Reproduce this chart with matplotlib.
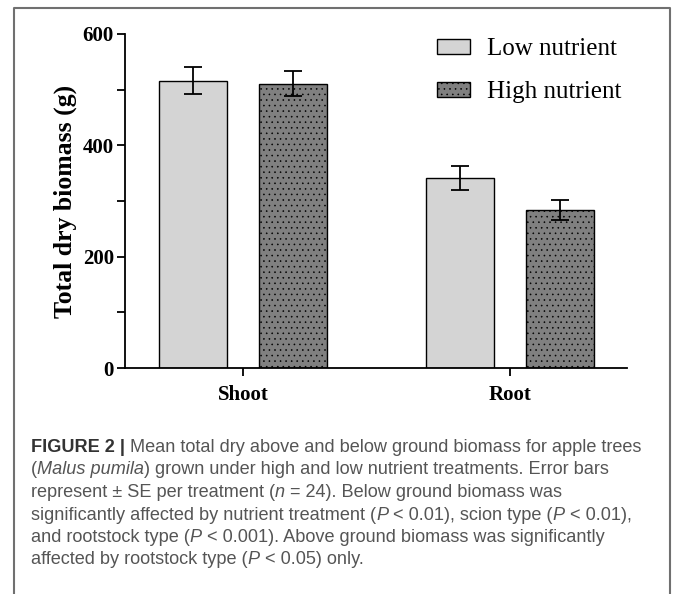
import numpy as np
import matplotlib
matplotlib.use('Agg')
import matplotlib.pyplot as plt
from matplotlib.lines import Line2D

# data
categories = ['Shoot', 'Root']
low_mean = [516, 341]
low_se = [24, 21]
high_mean = [511, 284]
high_se = [23, 18]
series_labels = ['Low nutrient', 'High nutrient']
yticks = [0, 200, 400, 600]

caption_lines = [
    [("FIGURE 2 |", 'bold'), (" Mean total dry above and below ground biomass for apple trees", 'normal')],
    [("(", 'normal'), ("Malus pumila", 'italic'), (") grown under high and low nutrient treatments. Error bars", 'normal')],
    [("represent \u00b1 SE per treatment (", 'normal'), ("n", 'italic'), (" = 24). Below ground biomass was", 'normal')],
    [("significantly affected by nutrient treatment (", 'normal'), ("P", 'italic'), (" < 0.01), scion type (", 'normal'),
     ("P", 'italic'), (" < 0.01),", 'normal')],
    [("and rootstock type (", 'normal'), ("P", 'italic'), (" < 0.001). Above ground biomass was significantly", 'normal')],
    [("affected by rootstock type (", 'normal'), ("P", 'italic'), (" < 0.05) only.", 'normal')],
]

W, H = 673, 594
plt.rcParams['hatch.linewidth'] = 0.4
plt.rcParams['hatch.color'] = 'black'

fig = plt.figure(figsize=(W / 100, H / 100), dpi=100)
ax = fig.add_axes([125 / W, 1 - 368 / H, (627 - 125) / W, (368 - 34) / H])

serif = 'Liberation Serif'
x = np.arange(len(categories))
width = 0.255
off = 0.187
err_kw = dict(ecolor='black', elinewidth=1.3, capsize=6.2, capthick=1.3)
ax.bar(x - off, low_mean, width, yerr=low_se, color='#d4d4d4', edgecolor='black',
       linewidth=1.0, label=series_labels[0], error_kw=err_kw)
ax.bar(x + off, high_mean, width, yerr=high_se, color='#808080', edgecolor='black',
       linewidth=1.0, hatch='...', label=series_labels[1], error_kw=err_kw)

ax.set_xlim(-0.442, 1.438)
ax.set_ylim(0, 600)
ax.set_yticks(yticks)
ax.set_yticks([100, 300, 500], minor=True)
ax.set_yticklabels([str(v) for v in yticks], fontfamily=serif, fontweight='bold', fontsize=15)
ax.set_xticks(x)
ax.set_xticklabels(categories, fontfamily=serif, fontweight='bold', fontsize=15)
ax.tick_params(axis='y', which='both', direction='out', length=6, width=1.3, pad=2)
ax.tick_params(axis='x', direction='out', length=6, width=1.3, pad=6)
ax.set_ylabel('Total dry biomass (g)', fontfamily=serif, fontweight='bold', fontsize=18.5, labelpad=4)
for s in ['top', 'right']:
    ax.spines[s].set_visible(False)
for s in ['left', 'bottom']:
    ax.spines[s].set_linewidth(1.3)

leg = ax.legend(loc='upper left', bbox_to_anchor=(0.577, 1.055), frameon=False,
                prop={'family': serif, 'size': 18}, handlelength=1.3, handleheight=0.55,
                handletextpad=0.7, labelspacing=0.85)

# outer frame (open at the bottom)
frame_kw = dict(color='#707070', linewidth=1.5, transform=None)
fig.add_artist(Line2D([14, 14, 670, 670], [0, H - 8, H - 8, 0], **frame_kw))

# caption with mixed styles
fig.canvas.draw()
renderer = fig.canvas.get_renderer()
y0 = H - 452
for i, runs in enumerate(caption_lines):
    xp = 31
    yp = y0 - i * 22.5
    for txt, style in runs:
        t = fig.text(xp / W, yp / H, txt, fontfamily='Liberation Sans', fontsize=13.1,
                     fontweight='bold' if style == 'bold' else 'normal',
                     fontstyle='italic' if style == 'italic' else 'normal',
                     color='#333333' if style == 'bold' else '#555555', va='baseline')
        xp += t.get_window_extent(renderer).width

fig.savefig('out.png', dpi=100)
